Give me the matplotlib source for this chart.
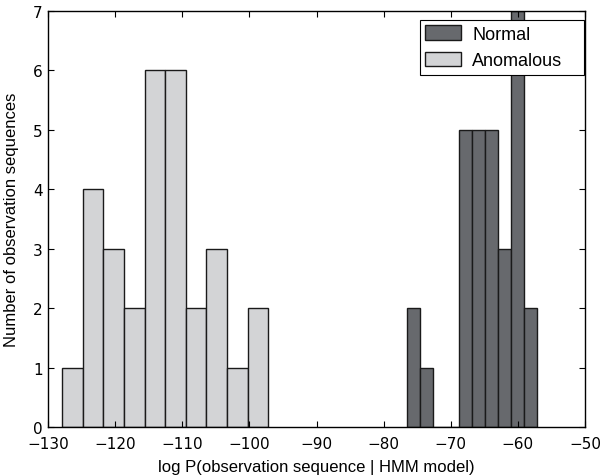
import matplotlib
matplotlib.use("Agg")
import matplotlib.pyplot as plt
import numpy as np

# Anomalous histogram: 10 bins
anom_start, anom_width = -127.9, 3.07
anom_counts = [1, 4, 3, 2, 6, 6, 2, 3, 1, 2]
# Normal histogram: 10 bins
norm_start, norm_width = -76.55, 1.935
norm_counts = [2, 1, 0, 0, 5, 5, 5, 3, 7, 2]

x_ticks = [-130, -120, -110, -100, -90, -80, -70, -60, -50]
y_ticks = [0, 1, 2, 3, 4, 5, 6, 7]

anom_edges = anom_start + anom_width * np.arange(len(anom_counts) + 1)
norm_edges = norm_start + norm_width * np.arange(len(norm_counts) + 1)

fig = plt.figure(figsize=(6.0, 4.77), dpi=100)
ax = fig.add_axes([0.08, 0.1027, 0.895, 0.8723])

ax.hist(norm_edges[:-1], bins=norm_edges, weights=norm_counts,
        color="#67696d", edgecolor="#1a1a1a", linewidth=1.0, label="Normal")
ax.hist(anom_edges[:-1], bins=anom_edges, weights=anom_counts,
        color="#d3d4d6", edgecolor="#1a1a1a", linewidth=1.0, label="Anomalous")

ax.set_xlim(-130, -50)
ax.set_ylim(0, 7)
ax.set_xticks(x_ticks)
ax.set_yticks(y_ticks)
ax.tick_params(direction="in", top=True, right=True, labelsize=11, length=4)
ax.tick_params(axis="x", pad=6.5)
ax.tick_params(axis="y", pad=4)
for sp in ax.spines.values():
    sp.set_linewidth(1.0)

lab_font = dict(family="Liberation Sans", size=12)
ax.set_xlabel("log P(observation sequence | HMM model)", fontdict=lab_font, labelpad=6)
ax.set_ylabel("Number of observation sequences", fontdict=lab_font, labelpad=10)

leg = ax.legend(loc="upper left", bbox_to_anchor=(0.6927, 1 - 9 / 416, 0.3054, 0.0),
                mode="expand",
                prop=dict(family="Liberation Sans", size=13),
                fancybox=False, edgecolor="black", framealpha=1,
                handlelength=1.95, handleheight=0.85, handletextpad=0.65,
                borderaxespad=0.0, borderpad=0.3)
leg.get_frame().set_linewidth(0.8)

fig.savefig("out.png", dpi=100)
